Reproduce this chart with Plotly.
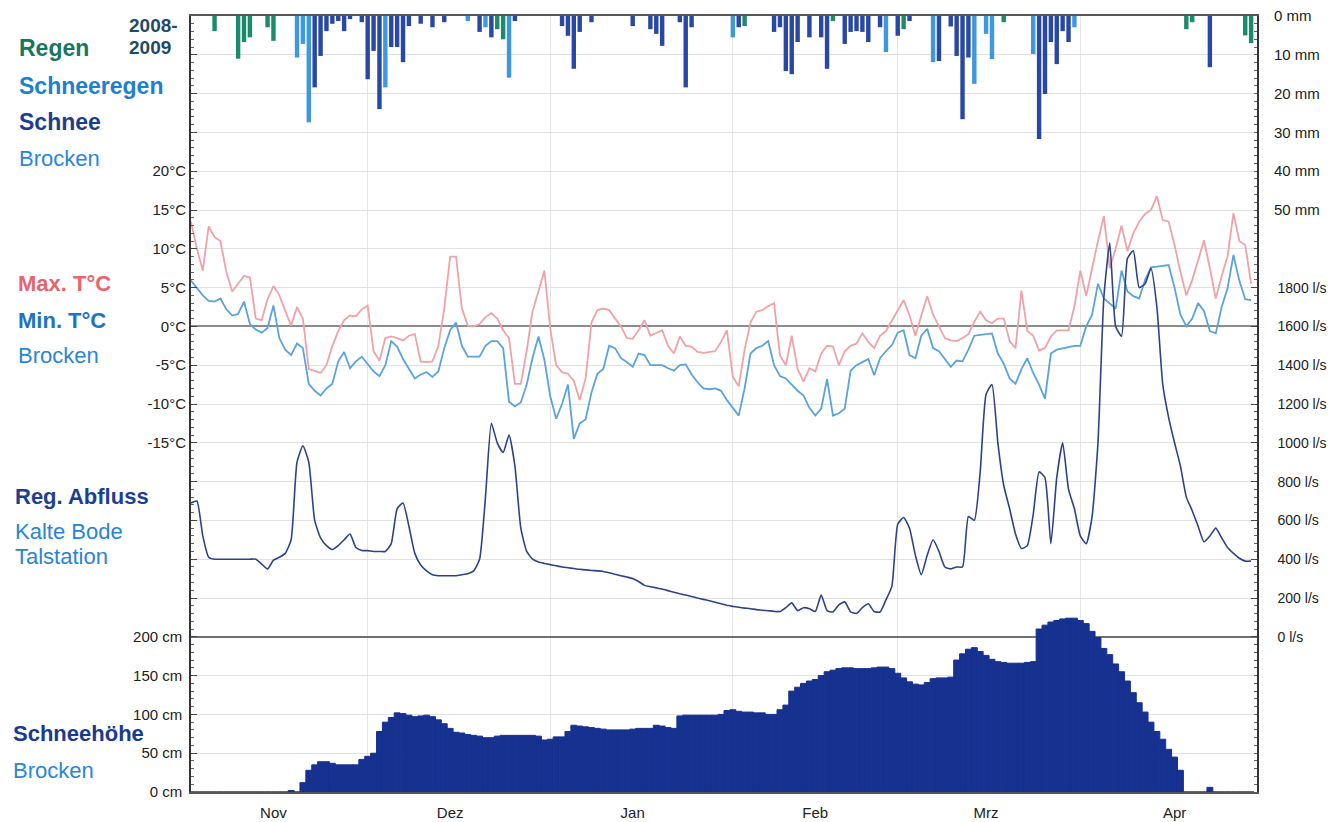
import pandas as pd
import plotly.graph_objects as go

# ---- data: winter 2008/09, Brocken / Kalte Bode ----
days = pd.date_range("2008-11-01", periods=181, freq="D")

# daily max / min air temperature, Brocken (°C)
tmax = [13.5, 10, 7.2, 12.9, 11.5, 11, 7, 4.5, 5.5, 6.5,
        6.3, 1, 0.8, 3.5, 5.2, 4, 2, 0.1, 2.5, 1,
        -5.5, -5.8, -6, -5, -2.5, -0.6, 0.8, 1.4, 1.3, 2.2,
        2.7, -3.2, -4.4, -1.5, -1.3, -1.5, -1.8, -1.2, -1, -4.5,
        -4.6, -4.5, -2.5, 2.3, 9, 9, 2.3, 0.1, 0, 0.3,
        1.2, 1.7, 1.0, -0.5, -1.5, -7.4, -7.4, -3.2, 2, 4.5,
        7.2, -0.3, -5, -5.9, -6.1, -7, -9.5, -6.7, 0.5, 2.1,
        2.3, 2.1, 1, 0, -1.5, -1.6, -0.5, 0.8, -1.2, -0.8,
        -0.5, -2.5, -3.5, -1.3, -2.5, -2.6, -3.3, -3.4, -3.3, -3.2,
        -2, -0.5, -6.5, -7.7, -3, 0.5, 1.9, 2.1, 2.6, 3,
        -3.7, -5, -1.2, -5.5, -7.1, -5.4, -5.8, -3.5, -2.5, -2.6,
        -5, -3.2, -2.5, -2.2, -0.9, -2, -2.8, -1.2, -0.6, 0.8,
        2, 3.4, 1.4, -1.2, 1.4, 3.9, 1.5, 0, -1.5, -1.8,
        -1.9, -1.5, -1.0, 0.6, 1.9, 0.8, 0.4, 1.0, 1.0, -1.9,
        -2.8, 4.6, -0.6, -1.2, -3.1, -2.8, -1.3, -0.5, -0.5, -0.5,
        2.6, 7.2, 3.9, 7.5, 11, 14.2, 7.5, 10, 13, 9.7,
        12, 13.5, 14.5, 15, 16.8, 13.7, 13.5, 10.5, 7, 4,
        6, 8.5, 11.1, 7.5, 3.6, 6.5, 9, 14.6, 11, 10.5,
        5.5]

tmin = [5.9, 5.0, 4.0, 3.3, 3.2, 3.6, 2.2, 1.4, 1.6, 3.2,
        0.3, -0.4, -0.8, -0.2, 2.7, -1.5, -3, -3.7, -2.2, -2.8,
        -7.4, -8.3, -8.9, -8, -7.4, -4.5, -3.3, -5.4, -4.5, -3.9,
        -4.8, -5.8, -6.4, -5, -1.9, -2.6, -4.2, -5.5, -6.7, -6.2,
        -5.9, -6.5, -5.8, -2.8, -0.5, 0.5, -2.5, -3.9, -3.9, -3.9,
        -2.5, -1.9, -1.9, -2.8, -9.7, -10.3, -9.8, -7.5, -4, -1.3,
        -4.3, -9, -11.9, -10, -7.5, -14.5, -12.5, -12, -8.5, -6.1,
        -5.5, -2.5, -2.8, -4.1, -4.6, -5.2, -3.5, -3.7, -5, -5,
        -5, -5.4, -5.7, -5, -4.9, -6.2, -7.2, -8, -8.1, -8,
        -8.3, -9.5, -10.5, -11.5, -8, -3.5, -2.8, -2.5, -1.9, -5,
        -6.4, -6.7, -7.5, -8.3, -8.9, -10.5, -11.5, -10.6, -6.8, -11.5,
        -11.2, -10.6, -5.7, -5, -4.6, -4.2, -6.3, -4.1, -3.2, -2.4,
        -0.8, -0.5, -3.7, -4.1, -1.2, -0.3, -2.8, -3.2, -4.2, -5.2,
        -4.4, -4.5, -3, -1.2, -1.1, -1.0, -0.9, -3.5, -4.8, -6.7,
        -7.4, -5.5, -4.1, -6, -7.5, -9.3, -3.5, -3.0, -2.8, -2.6,
        -2.5, -2.5, 0, 1.5, 5.5, 3.6, 3, 2.3, 7.2, 4.5,
        3.9, 3.6, 6, 7.6, 7.7, 7.8, 7.9, 5, 1.5, 0,
        1, 3, 2, -0.6, -0.9, 2.5, 4.9, 9.2, 5.9, 3.5,
        3.4]

# regulated discharge, Kalte Bode Talstation (l/s)
runoff = [690, 700, 520, 410, 400, 400, 400, 400, 400, 400,
          400, 400, 375, 350, 395, 410, 430, 500, 900, 985,
          900, 600, 510, 470, 450, 470, 500, 530, 460, 445,
          444, 440, 440, 440, 480, 660, 690, 570, 430, 370,
          340, 320, 315, 315, 315, 315, 320, 325, 340, 400,
          720, 1100, 1000, 950, 1040, 880, 560, 440, 400, 385,
          378, 372, 366, 360, 356, 352, 348, 345, 342, 340,
          337, 330, 322, 315, 308, 300, 285, 265, 258, 252,
          246, 238, 230, 222, 215, 208, 200, 193, 186, 178,
          170, 163, 157, 152, 148, 145, 140, 137, 134, 131,
          130, 150, 175, 135, 150, 145, 130, 215, 135, 128,
          165, 180, 128, 120, 150, 170, 130, 128, 190, 260,
          580, 615, 560, 420, 320, 420, 500, 440, 360, 350,
          360, 360, 620, 600, 850, 1250, 1300, 1000, 780, 660,
          530, 455, 470, 630, 850, 820, 480, 820, 1000, 760,
          660, 520, 480, 620, 1000, 1750, 2030, 1600, 1550, 1950,
          1990, 1800, 1820, 1900, 1700, 1300, 1130, 1000, 880, 720,
          650, 570, 490, 520, 560, 510, 460, 430, 405, 390,
          390]

# snow depth, Brocken (cm)
snow_depth = [0, 0, 0, 0, 0, 0, 0, 0, 0, 0,
              0, 0, 0, 0, 0, 0, 0, 2, 0, 12,
              28, 35, 39, 39, 37, 35, 35, 35, 35, 42,
              46, 50, 78, 90, 96, 102, 101, 99, 97, 98,
              99, 97, 93, 88, 82, 77, 76, 74, 73, 72,
              70, 70, 72, 73, 73, 73, 73, 73, 73, 72,
              67, 68, 71, 71, 78, 86, 85, 84, 83, 82,
              81, 80, 80, 80, 80, 81, 82, 82, 82, 86,
              85, 83, 82, 98, 99, 99, 99, 99, 99, 99,
              100, 105, 106, 104, 103, 103, 102, 102, 100, 100,
              106, 112, 130, 135, 140, 143, 145, 150, 155, 157,
              159, 160, 160, 159, 159, 159, 160, 161, 161, 159,
              153, 147, 142, 139, 138, 141, 146, 147, 147, 148,
              170, 178, 184, 186, 181, 176, 171, 168, 167, 166,
              166, 166, 167, 168, 210, 215, 219, 221, 223, 224,
              224, 221, 217, 207, 199, 185, 177, 165, 155, 143,
              128, 115, 103, 90, 78, 68, 55, 45, 28, 0,
              0, 0, 0, 6, 0, 0, 0, 0, 0, 0,
              0]

# daily precipitation by type (day index since 1 Nov, mm)
rain_days = [4, 8, 9, 10, 13, 14, 52, 53, 94, 109, 121, 138, 169, 170, 179, 180]
rain_mm = [3.9, 11, 6.7, 5.5, 2.9, 6.4, 3.4, 6, 2.6, 1.3, 3.4, 1.6, 3.4, 1.6, 5, 7]

sleet_days = [18, 19, 20, 33, 47, 50, 54, 92, 118, 126, 133, 135, 136, 143, 150]
sleet_mm = [10.7, 7.2, 27.4, 18.4, 1.3, 2.9, 15.9, 5.5, 9.3, 11.9, 17.5, 4.6, 11.1, 9.8, 2.9]

snowfall_days = [21, 22, 23, 24, 25, 26, 27, 29, 30, 31,
                 32, 34, 35, 36, 37, 39, 41, 43, 49, 51,
                 55, 63, 64, 65, 66, 68, 75, 78, 79, 80,
                 83, 84, 85, 93, 99, 100, 101, 102, 103, 105,
                 107, 108, 111, 112, 113, 114, 115, 117, 120, 122,
                 127, 129, 130, 131, 132, 144, 145, 146, 147, 148,
                 149, 173]
snowfall_mm = [18.4, 10.3, 3.9, 2, 1.3, 3.9, 0.8, 1.6, 16.3, 9,
               24, 8, 8, 11.9, 2.6, 2, 2.9, 1.6, 4.1, 5.5,
               1.3, 2.6, 5.1, 13.6, 4.1, 1.6, 2.6, 3.4, 4.6, 7.7,
               1.6, 18.4, 2.9, 2.9, 4.1, 2.9, 14.2, 15, 6.7, 5.5,
               5.5, 13.6, 7.2, 4.1, 3.9, 4.1, 6.7, 2.9, 5.1, 1.3,
               11.6, 2.7, 10.3, 26.6, 10.7, 31.7, 20.1, 6.7, 12.4, 3.9,
               6.7, 13.2]

# axis ticks
month_ticks = ["2008-11-15", "2008-12-15", "2009-01-15", "2009-02-15", "2009-03-16", "2009-04-17"]
month_labels = ["Nov", "Dez", "Jan", "Feb", "Mrz", "Apr"]
temp_ticks = [-15, -10, -5, 0, 5, 10, 15, 20]
flow_ticks = [0, 200, 400, 600, 800, 1000, 1200, 1400, 1600, 1800]
precip_ticks = [0, 10, 20, 30, 40, 50]
snow_ticks = [0, 50, 100, 150, 200]

# ---- layout geometry ----
W, H = 1332, 822
ML, MR, MT, MB = 191, 75, 16, 30
PW, PH = W - ML - MR, H - MT - MB
FONT = "Liberation Sans, Arial, sans-serif"
DAY_MS = 86400000
SNOW_BLUE = "#16318f"


def px(x):
    return (x - ML) / PW


def py(y):
    return (H - MB - y) / PH


fig = go.Figure()

# snow depth as touching day-wide blocks (outline in fill colour hides seams)
fig.add_trace(go.Bar(x=days, y=snow_depth, yaxis="y", width=DAY_MS,
                     marker=dict(color=SNOW_BLUE, line=dict(width=1, color=SNOW_BLUE)),
                     name="Schneehöhe"))

fig.add_trace(go.Scatter(x=days, y=tmax, yaxis="y2", mode="lines",
                         line=dict(color="#f0a2a8", width=1.8), name="Max. T°C"))
fig.add_trace(go.Scatter(x=days, y=tmin, yaxis="y2", mode="lines",
                         line=dict(color="#5aa3de", width=1.8), name="Min. T°C"))

fig.add_trace(go.Scatter(x=days, y=runoff, yaxis="y3", mode="lines",
                         line=dict(color="#2e4386", width=1.6, shape="spline", smoothing=0.5),
                         name="Reg. Abfluss"))

for d_list, mm, col, nm in [(rain_days, rain_mm, "#1d8a6c", "Regen"),
                            (sleet_days, sleet_mm, "#3d98de", "Schneeregen"),
                            (snowfall_days, snowfall_mm, "#2947a4", "Schnee")]:
    fig.add_trace(go.Bar(x=[days[i] for i in d_list], y=mm, yaxis="y4",
                         width=0.75 * DAY_MS,
                         marker=dict(color=col, line=dict(width=0)), name=nm))

tickfont = dict(family=FONT, size=15, color="#222222")
grid_vals = list(range(0, 1001, 50))

fig.update_layout(
    width=W, height=H,
    margin=dict(l=ML, r=MR, t=MT, b=MB, autoexpand=False),
    paper_bgcolor="white", plot_bgcolor="white",
    showlegend=False, barmode="overlay",
    font=dict(family=FONT),
    xaxis=dict(
        type="date", range=["2008-11-01", "2009-05-01"],
        tickmode="array", tickvals=month_ticks, ticktext=month_labels,
        tickfont=tickfont, ticks="", showgrid=False, automargin=False,
        showline=True, mirror=True, linecolor="#555555", linewidth=1.5,
        minor=dict(tick0="2008-11-01", dtick="M1", showgrid=True,
                   gridcolor="#e6e6e6", gridwidth=1, ticks=""),
        zeroline=False, ticklabelstandoff=6,
    ),
    yaxis=dict(
        range=[0, 1000], side="left", automargin=False,
        tickmode="array", tickvals=grid_vals,
        ticktext=[f"{v} cm" if v in snow_ticks else "" for v in grid_vals],
        tickfont=tickfont, ticks="inside", ticklen=6, tickcolor="#444444",
        showgrid=True, gridcolor="#e2e2e2", gridwidth=1,
        showline=True, linecolor="#333333", linewidth=1.5,
        zeroline=False, ticklabelstandoff=4,
        minor=dict(dtick=10, ticks="inside", ticklen=3, tickcolor="#666666", showgrid=False),
    ),
    yaxis2=dict(
        range=[-60, 40], overlaying="y", side="left", automargin=False,
        tickmode="array", tickvals=temp_ticks,
        ticktext=[f"{v}°C" for v in temp_ticks],
        tickfont=tickfont, ticks="", showgrid=False, showline=False,
        zeroline=True, zerolinecolor="#8c8c8c", zerolinewidth=1.5,
        ticklabelstandoff=4,
    ),
    yaxis3=dict(
        range=[-800, 3200], overlaying="y", side="right", automargin=False,
        tickmode="array", tickvals=flow_ticks,
        ticktext=[f"{v} l/s" for v in flow_ticks],
        tickfont=dict(family=FONT, size=14, color="#222222"),
        ticks="inside", ticklen=6, tickcolor="#444444",
        showgrid=False, showline=True, linecolor="#333333", linewidth=1.5,
        zeroline=True, zerolinecolor="#707070", zerolinewidth=1.5,
        ticklabelstandoff=16,
        minor=dict(dtick=40, ticks="inside", ticklen=3, tickcolor="#666666", showgrid=False),
    ),
    yaxis4=dict(
        range=[200, 0], overlaying="y", side="right", automargin=False,
        tickmode="array", tickvals=precip_ticks,
        ticktext=[f"{v} mm" for v in precip_ticks],
        tickfont=tickfont, ticks="", showgrid=False, showline=False,
        zeroline=False, ticklabelstandoff=16,
    ),
)

# panel captions in the left margin: (text, x px, y px, size, bold, colour)
captions = [
    ("Regen", 17, 48, 23, True, "#18775f"),
    ("Schneeregen", 17, 86, 23, True, "#1c7fd0"),
    ("Schnee", 17, 122, 23, True, "#1d3e8e"),
    ("Brocken", 17, 158, 22, False, "#2a86d8"),
    ("2008-", 127, 26, 19, True, "#1e4a68"),
    ("2009", 127, 48, 19, True, "#1e4a68"),
    ("Max. T°C", 16, 283, 22, True, "#e8646e"),
    ("Min. T°C", 16, 320, 22, True, "#1b73c4"),
    ("Brocken", 16, 355, 22, False, "#2a86d8"),
    ("Reg. Abfluss", 13, 496, 22, True, "#1e3f8f"),
    ("Kalte Bode", 13, 531, 22, False, "#2a84d6"),
    ("Talstation", 13, 556, 22, False, "#2a84d6"),
    ("Schneehöhe", 11, 733, 22, True, "#1a3a8e"),
    ("Brocken", 11, 770, 22, False, "#2a86d8"),
]
for text, x, y, size, bold, col in captions:
    fig.add_annotation(
        text=f"<b>{text}</b>" if bold else text,
        xref="paper", yref="paper", x=px(x), y=py(y),
        xanchor="left", yanchor="middle", showarrow=False,
        font=dict(family=FONT, size=size, color=col),
    )

fig.write_html("out.html")
